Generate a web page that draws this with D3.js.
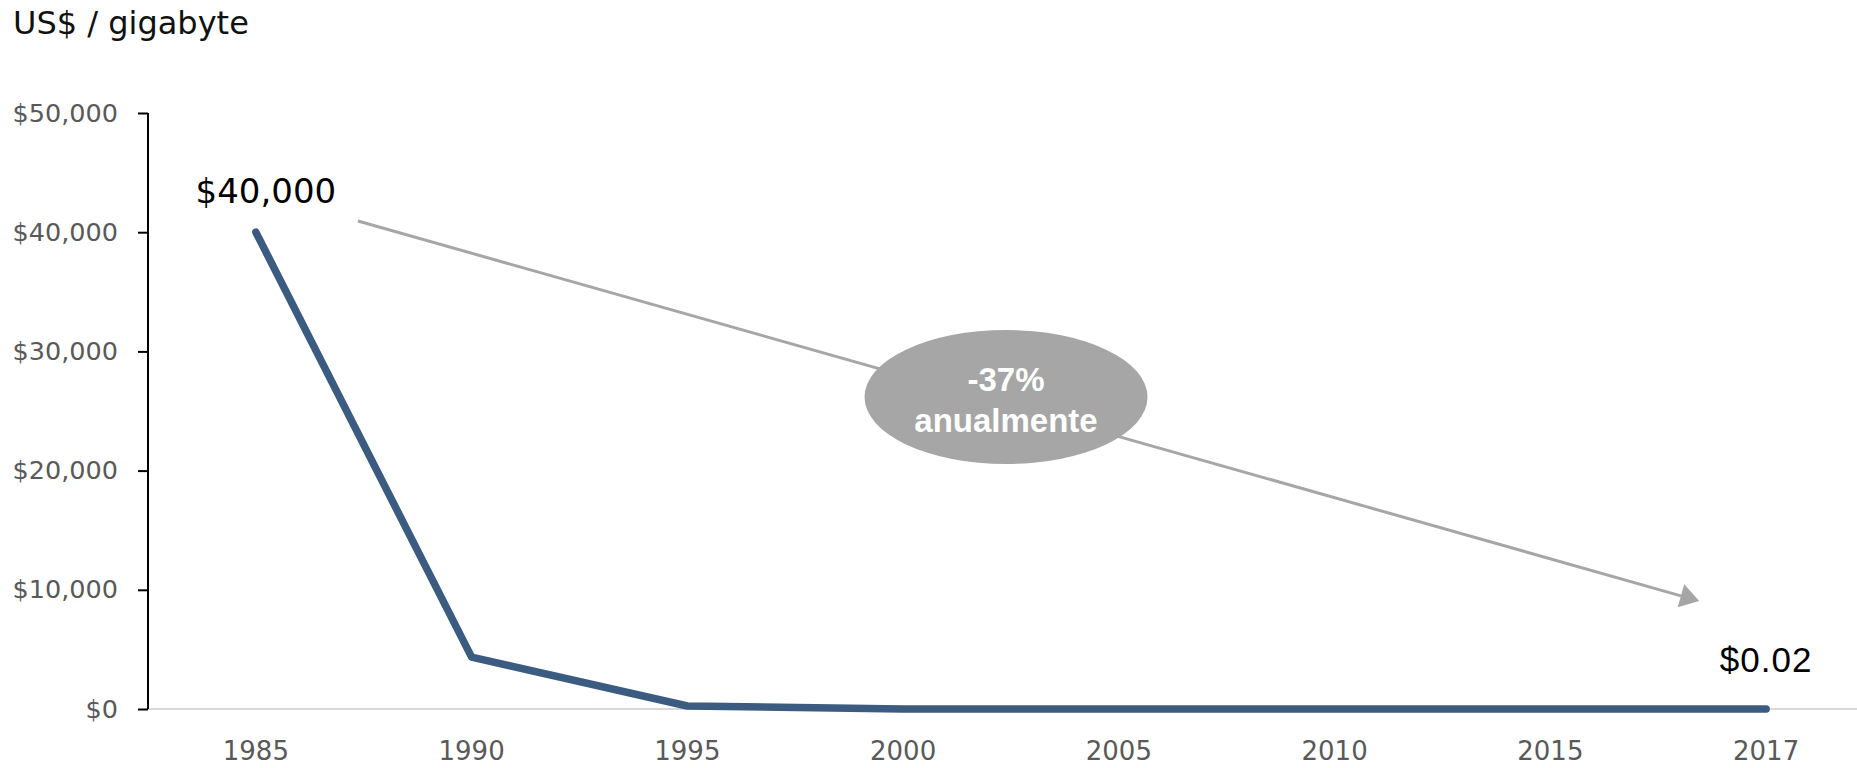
<!DOCTYPE html>
<html>
<head>
<meta charset="utf-8">
<script src="https://cdn.jsdelivr.net/npm/d3@7"></script>
<style>
  body { margin: 0; background: #fff; }
  svg { display: block; }
</style>
</head>
<body>
<div id="chart"></div>
<script>
// data
var years = ["1985", "1990", "1995", "2000", "2005", "2010", "2015", "2017"];
var prices = [40000, 4350, 250, 10, 1, 0.1, 0.03, 0.02];
var yTicks = [0, 10000, 20000, 30000, 40000, 50000];
var firstLabel = "$40,000";
var lastLabel = "$0.02";
var badgeLines = ["-37%", "anualmente"];

var W = 1857, H = 768;
var margin = {left: 148, top: 113, bottom: 59};

var svg = d3.select("#chart").append("svg")
    .attr("width", W)
    .attr("height", H);

// scales
var x = d3.scalePoint().domain(years).range([margin.left, 1874]).padding(0.5);
var y = d3.scaleLinear().domain([0, 50000]).range([H - margin.bottom, margin.top]);
var step = x.step();

// position between categories, used by the annotation
function xAt(i) { return x(years[0]) + i * step; }

// title
svg.append("text")
    .attr("x", 13)
    .attr("y", 34)
    .style("font-family", "DejaVu Sans")
    .style("font-size", "32px")
    .style("fill", "#111")
    .text("US$ / gigabyte");

// baseline
svg.append("line")
    .attr("x1", margin.left)
    .attr("x2", W)
    .attr("y1", y(0))
    .attr("y2", y(0))
    .style("stroke", "#d9d9d9")
    .style("stroke-width", 2);

// y axis
var yAxis = svg.append("g")
    .attr("transform", `translate(${margin.left},0)`)
    .call(d3.axisLeft(y).tickValues(yTicks).tickSize(10).tickPadding(20)
        .tickFormat(d => "$" + d3.format(",")(d)));
yAxis.select(".domain").attr("d", `M0,${y(50000)}V${y(0)}`).style("stroke", "#000").style("stroke-width", 2);
yAxis.selectAll(".tick line").style("stroke", "#000").style("stroke-width", 2);
yAxis.selectAll(".tick text")
    .style("font-family", "DejaVu Sans")
    .style("font-size", "25.5px")
    .style("fill", "#595959");

// x labels
svg.append("g").selectAll("text")
    .data(years).enter()
    .append("text")
    .attr("x", d => x(d))
    .attr("y", 760)
    .style("text-anchor", "middle")
    .style("font-family", "DejaVu Sans")
    .style("font-size", "26px")
    .style("fill", "#595959")
    .text(d => d);

// trend arrow
var a0 = [xAt(0.473), y(40940)], a1 = [xAt(6.69), y(9060)];
var ang = Math.atan2(a1[1] - a0[1], a1[0] - a0[0]);
var headLen = 19, headW = 12;
var base = [a1[0] - headLen * Math.cos(ang), a1[1] - headLen * Math.sin(ang)];
svg.append("line")
    .attr("x1", a0[0]).attr("y1", a0[1])
    .attr("x2", base[0]).attr("y2", base[1])
    .style("stroke", "#a6a6a6")
    .style("stroke-width", 3);
svg.append("polygon")
    .attr("points", [
        a1,
        [base[0] + headW * Math.sin(ang), base[1] - headW * Math.cos(ang)],
        [base[0] - headW * Math.sin(ang), base[1] + headW * Math.cos(ang)]
    ].map(p => p.join(",")).join(" "))
    .style("fill", "#a6a6a6");

// badge
var bx = xAt(3.477), by = y(26174);
svg.append("ellipse")
    .attr("cx", bx).attr("cy", by)
    .attr("rx", 141.5).attr("ry", 67)
    .style("fill", "#a6a6a6");
svg.append("g").selectAll("text")
    .data(badgeLines).enter()
    .append("text")
    .attr("x", bx)
    .attr("y", (d, i) => by - 6 + i * 41)
    .style("text-anchor", "middle")
    .style("font-family", "Liberation Sans")
    .style("font-weight", "bold")
    .style("font-size", "33px")
    .style("fill", "#fff")
    .text(d => d);

// price line
var line = d3.line()
    .x((d, i) => x(years[i]))
    .y(d => y(d));
svg.append("path")
    .datum(prices)
    .attr("d", line)
    .style("fill", "none")
    .style("stroke", "#3b5b80")
    .style("stroke-width", 7.5)
    .style("stroke-linecap", "round")
    .style("stroke-linejoin", "round");

// end labels
svg.append("text")
    .attr("x", x(years[0]) + 10)
    .attr("y", y(prices[0]) - 29)
    .style("text-anchor", "middle")
    .style("font-family", "DejaVu Sans")
    .style("font-size", "34px")
    .style("fill", "#000")
    .text(firstLabel);

svg.append("text")
    .attr("x", x(years[years.length - 1]))
    .attr("y", y(prices[prices.length - 1]) - 37)
    .style("text-anchor", "middle")
    .style("font-family", "Liberation Sans")
    .style("font-size", "35px")
    .style("letter-spacing", "1px")
    .style("fill", "#000")
    .text(lastLabel);
</script>
</body>
</html>
